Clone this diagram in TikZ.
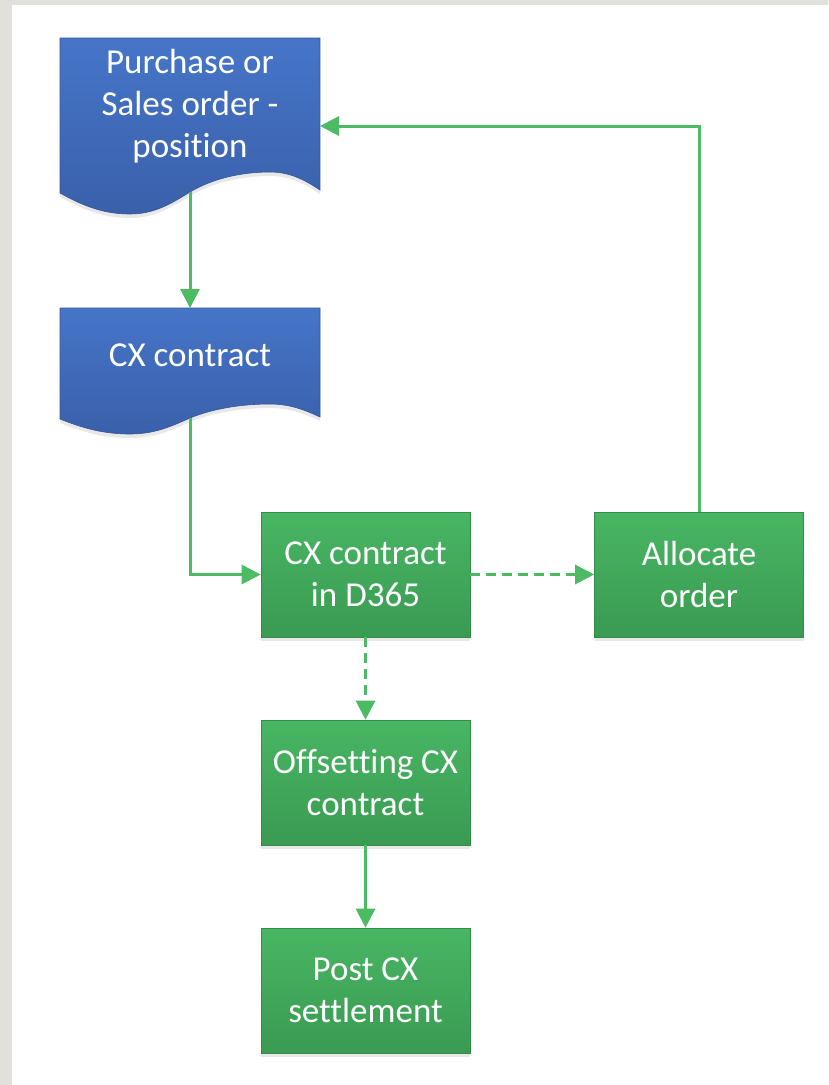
\documentclass[tikz,border=0pt]{standalone}
\usepackage{fontspec}
\setmainfont{Carlito}[Ligatures={NoCommon}]
\usetikzlibrary{arrows.meta,shadows}
\definecolor{bgGray}{RGB}{226,224,220}
\definecolor{blueTop}{RGB}{70,117,200}
\definecolor{blueBot}{RGB}{58,96,170}
\definecolor{greenTop}{RGB}{72,182,99}
\definecolor{greenBot}{RGB}{58,154,82}
\definecolor{lineGreen}{RGB}{76,187,100}
\definecolor{boxEdge}{RGB}{52,140,74}
\tikzset{
  docshape/.style={top color=blueTop, bottom color=blueBot, draw=blueBot!90!black, line width=0.6pt,
     drop shadow={opacity=0.18, shadow xshift=0pt, shadow yshift=-4pt}},
  procbox/.style={rectangle, minimum width=209pt, minimum height=125pt, inner sep=0pt,
     top color=greenTop, bottom color=greenBot, draw=boxEdge, line width=0.6pt,
     drop shadow={opacity=0.18, shadow xshift=0pt, shadow yshift=-4pt},
     text=white, align=center, font=\fontsize{35}{42}\selectfont},
  doctext/.style={text=white, align=center, font=\fontsize{35}{42}\selectfont, inner sep=0pt},
  conn/.style={draw=lineGreen, line width=3pt, -{Triangle[length=19pt,width=19pt]}},
  dashconn/.style={conn, dash pattern=on 10pt off 6pt}
}
\begin{document}
\begin{tikzpicture}[x=1pt,y=-1pt]
\fill[bgGray] (0,0) rectangle (828,1085);
\fill[white] (12,5) rectangle (828,1085);
\useasboundingbox (0,0) rectangle (828,1085);

% document shapes
\path[docshape] (60,193) .. controls (85,207) and (105,214) .. (130,214)
  .. controls (155,214) and (172,203) .. (190,192)
  .. controls (212,179) and (240,172) .. (270,172)
  .. controls (290,172) and (305,180) .. (320,190)
  -- (320,38) -- (60,38) -- cycle;
\path[docshape] (60,419) .. controls (85,429) and (105,434) .. (130,434)
  .. controls (155,434) and (172,426) .. (190,418)
  .. controls (212,409) and (240,404) .. (270,404)
  .. controls (290,404) and (305,410) .. (320,417)
  -- (320,308) -- (60,308) -- cycle;

\node[doctext] (doc1) at (190,106) {Purchase or\\Sales order -\\position};
\node[doctext] (doc2) at (190,355) {CX contract};

\coordinate (d1b) at (190,192);
\coordinate (d1r) at (320,126);
\coordinate (d2t) at (190,308);
\coordinate (d2b) at (190,418);

% process boxes
\node[procbox] (b1) at (365.5,574.5) {CX contract\\in D365};
\node[procbox] (al) at (699,574.5) {Allocate\\order};
\node[procbox] (off) at (365.5,782.5) {Offsetting CX\\contract};
\node[procbox] (post) at (365.5,990.5) {Post CX\\settlement};

% connectors
\draw[conn] (d1b) -- (d2t);
\draw[conn] (d2b) |- (b1.west);
\draw[dashconn] (b1.east) -- (al.west);
\draw[conn] (al.north) |- (d1r);
\draw[dashconn] (b1.south) -- (off.north);
\draw[conn] (off.south) -- (post.north);
\end{tikzpicture}
\end{document}
